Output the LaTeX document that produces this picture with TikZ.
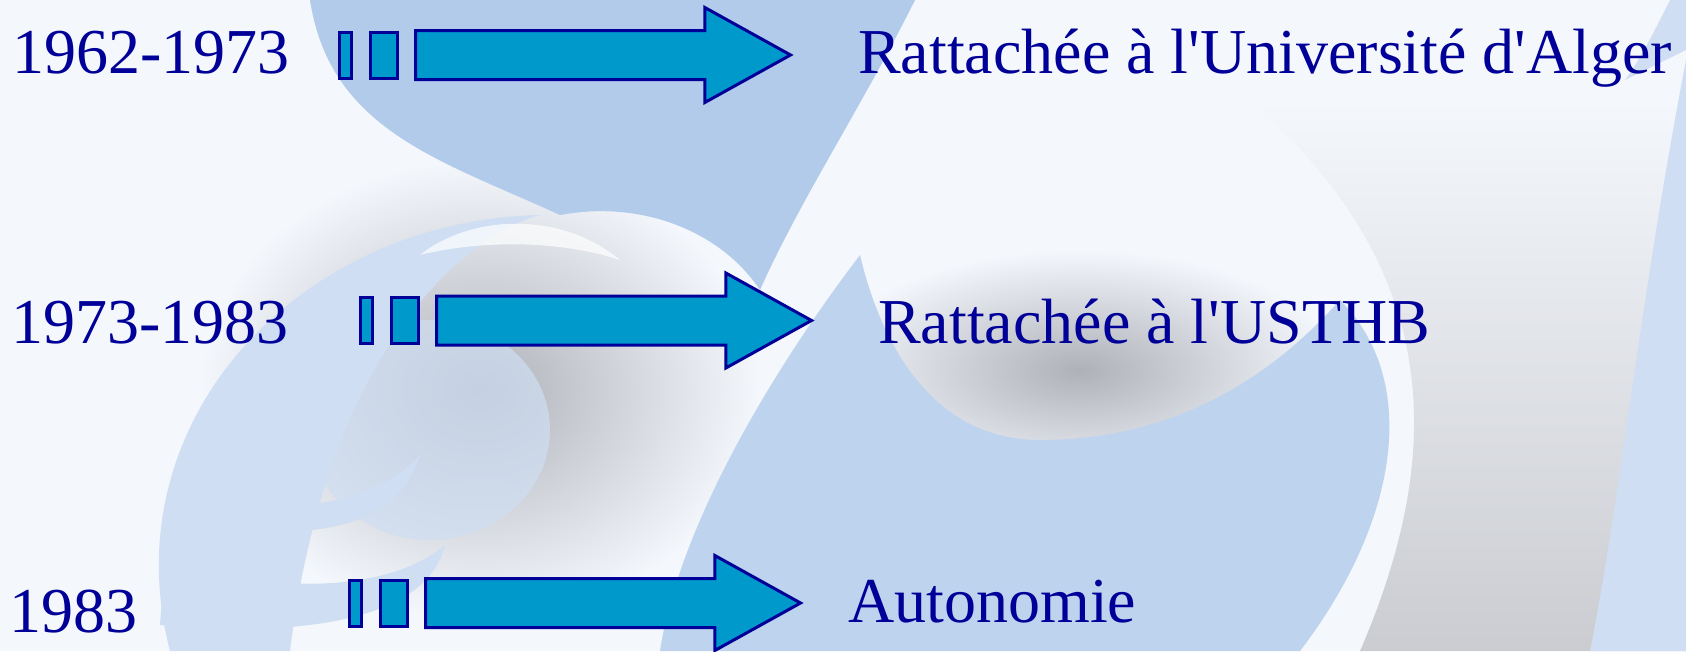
\documentclass[tikz,border=0pt]{standalone}
\usepackage{fontspec}
\setmainfont{Liberation Serif}[Ligatures=TeXOff]
\usetikzlibrary{shapes.arrows, positioning}

\definecolor{navytext}{HTML}{000099}
\definecolor{arrowfill}{HTML}{0099CC}
\definecolor{bgwhite}{HTML}{F4F7FC}
\definecolor{bgblue}{HTML}{B2CBEB}
\definecolor{bgpale}{HTML}{CFDEF3}
\definecolor{bggray}{HTML}{AEB1B8}

\tikzset{
  bar/.style={draw=navytext, fill=arrowfill, line width=3pt, minimum height=46pt, inner sep=0pt},
  blockarrow/.style={single arrow, draw=navytext, fill=arrowfill, line width=3pt,
    minimum height=375pt, minimum width=92pt, inner xsep=0pt, inner ysep=23pt,
    single arrow head extend=23pt, single arrow tip angle=58, single arrow head indent=0pt},
  datetxt/.style={text=navytext, font=\fontsize{64}{70}\selectfont, anchor=base west, inner sep=0pt},
  stagetxt/.style={datetxt}
}

\begin{document}
\begin{tikzpicture}[x=1pt, y=-1pt]
    \useasboundingbox (0,0) rectangle (1686,651);
    % background swirl
    \fill[bgwhite] (0,0) rectangle (1686,651);
    \shade[top color=bgwhite, bottom color=bggray!65] (1250,100) .. controls (1420,250) and (1460,420) .. (1360,651)
        -- (1686,651) -- (1686,100) -- cycle;
    % gray hole
    \shade[inner color=bggray, outer color=bgwhite] (480,390) ellipse [x radius=280, y radius=230];
    \fill[bgpale, opacity=0.7] (430,430) ellipse [x radius=120, y radius=110];
    % top band
    \fill[bgblue] (310,0) -- (915,0) .. controls (860,110) and (800,200) .. (760,290)
        .. controls (720,230) and (640,200) .. (560,215) .. controls (440,160) and (330,130) .. (310,0) -- cycle;
    % left arc
    \fill[bgpale] (170,651) .. controls (110,420) and (300,220) .. (540,215)
        .. controls (480,230) and (330,330) .. (290,651) -- cycle;
    \fill[white, opacity=0.7] (420,255) .. controls (470,215) and (560,210) .. (620,260)
        .. controls (560,240) and (480,240) .. (420,255) -- cycle;
    % small strips
    \fill[bgpale] (195,460) .. controls (230,520) and (360,520) .. (420,455)
        .. controls (400,520) and (330,545) .. (200,525) -- cycle;
    \fill[bgpale] (165,555) .. controls (240,590) and (380,600) .. (445,545)
        .. controls (430,610) and (330,640) .. (160,625) -- cycle;
    % bowl shadow
    \shade[inner color=bggray, outer color=bgwhite] (1080,370) ellipse [x radius=260, y radius=120];
    % right big shape
    \fill[bgblue!85!white] (660,651) .. controls (680,520) and (780,360) .. (860,255)
        .. controls (880,340) and (930,440) .. (1040,440) .. controls (1160,440) and (1260,390) .. (1340,300)
        .. controls (1420,380) and (1400,520) .. (1300,651) -- cycle;
    \fill[bgpale] (1686,60) .. controls (1640,300) and (1620,500) .. (1590,651) -- (1686,651) -- cycle;
    \fill[bgpale] (1686,0) -- (1670,0) .. controls (1655,30) and (1640,60) .. (1625,80) -- (1686,50) -- cycle;
    % row 1
    \node[bar, minimum width=12pt] (bara1) at (345.5,55) {};
    \node[bar, minimum width=27pt, right=16pt of bara1] (barb1) {};
    \node[blockarrow, right=15pt of barb1] (arrow1) {};
    \node[datetxt] (date1) at (12,73) {1962-1973};
    \node[stagetxt] (stage1) at (858,73) {Rattachée à l'Université d'Alger};
    % row 2
    \node[bar, minimum width=12pt] (bara2) at (366.5,320.5) {};
    \node[bar, minimum width=27pt, right=16pt of bara2] (barb2) {};
    \node[blockarrow, right=15pt of barb2] (arrow2) {};
    \node[datetxt] (date2) at (11,343) {1973-1983};
    \node[stagetxt] (stage2) at (878,343) {Rattachée à l'USTHB};
    % row 3
    \node[bar, minimum width=12pt] (bara3) at (355.5,603) {};
    \node[bar, minimum width=27pt, right=16pt of bara3] (barb3) {};
    \node[blockarrow, right=15pt of barb3] (arrow3) {};
    \node[datetxt] (date3) at (9,632) {1983};
    \node[stagetxt] (stage3) at (848,622) {Autonomie};
\end{tikzpicture}
\end{document}
